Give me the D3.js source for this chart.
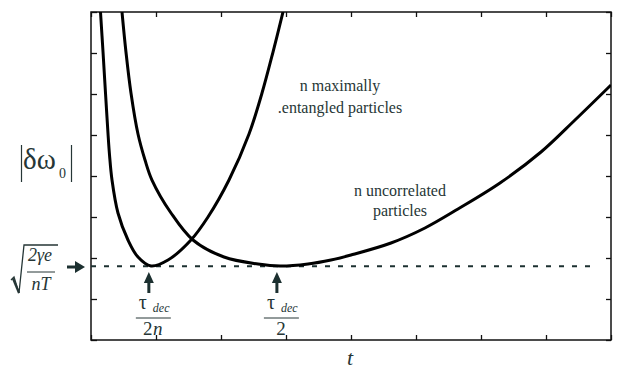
<!DOCTYPE html>
<html><head><meta charset="utf-8"></head>
<body style="margin:0">
<svg width="618" height="369"></svg>
<script src="https://d3js.org/d3.v7.min.js"></script>
<script>
// values (time and |dw0| in tick intervals)
const entangledT = [0.146, 0.185, 0.223, 0.262, 0.285, 0.323, 0.415, 0.569, 0.723, 0.923, 1.185, 1.538, 1.800, 2.123, 2.431, 2.631, 2.800, 2.954];
const entangledV = [8.0, 7.024, 6.024, 5.024, 4.512, 3.902, 3.098, 2.439, 2.024, 1.805, 1.951, 2.439, 3.0, 3.902, 5.024, 6.024, 7.024, 8.0];
const uncorrT = [0.477, 0.538, 0.615, 0.723, 0.831, 0.938, 1.231, 1.569, 2.046, 2.569, 2.908, 3.338, 3.692, 4.0, 4.615, 5.138, 5.646, 6.292, 6.923, 7.446, 8.0];
const uncorrV = [8.0, 7.024, 6.024, 5.024, 4.390, 3.902, 3.098, 2.439, 2.024, 1.854, 1.805, 1.854, 1.951, 2.073, 2.366, 2.732, 3.195, 3.829, 4.585, 5.366, 6.220];
const minLevel = 1.8;
const minT = [0.89, 2.86];
const minNum = ["τ", "τ"];
const minDen = ["2n", "2"];
const xTicks = [0, 1, 2, 3, 4, 5, 6, 7, 8];
const yTicks = [0, 1, 2, 3, 4, 5, 6, 7, 8];

const ink = "#263636";
const fam = ["Liberation", "Serif"].join(" ");
let svg = d3.select("svg");

let x = d3.scaleLinear().domain([0, 8]).range([91, 611]);
let y = d3.scaleLinear().domain([0, 8]).range([340, 12]);

// every text label, in the same way: [x, y, size, italic, anchor, text]
const labels = [
  [340, 91, 16, false, "middle", "n maximally"],
  [340, 113, 16, false, "middle", ".entangled particles"],
  [400, 196, 16, false, "middle", "n uncorrelated"],
  [400, 216, 16, false, "middle", "particles"],
  [23, 169, 29, false, "start", "δω"],
  [59, 178, 14, false, "start", "0"],
  [40, 261, 18, true, "middle", "2γe"],
  [41, 290, 18, true, "middle", "nT"],
  [350, 365, 22, true, "middle", "t"]
];
minT.forEach((t, i) => {
  labels.push([x(t) - 6, 309, 20, false, "middle", minNum[i]]);
  labels.push([x(t) + 4, 312, 12, true, "start", "dec"]);
  if (minDen[i] === "2n") {
    labels.push([x(t) - 1, 335, 19, false, "middle", "2"]);
    labels.push([x(t) + 9, 335, 19, true, "middle", "n"]);
  } else {
    labels.push([x(t) + 4, 335, 19, false, "middle", minDen[i]]);
  }
});

svg.selectAll("text").data(labels).enter().append("text")
  .attr("x", d => d[0]).attr("y", d => d[1]).attr("font-size", d => d[2])
  .style("font-family", d => "'" + fam + "'")
  .attr("font-style", d => d[3] ? "italic" : "normal")
  .attr("text-anchor", d => d[4])
  .attr("fill", ink)
  .text(d => d[5]);

// bars around dw0
svg.append("line").attr("x1", 21.5).attr("x2", 21.5).attr("y1", 145).attr("y2", 182).attr("stroke", ink).attr("stroke-width", 1.2);
svg.append("line").attr("x1", 71.5).attr("x2", 71.5).attr("y1", 145).attr("y2", 182).attr("stroke", ink).attr("stroke-width", 1.2);

// radical, fraction bar and arrow of the minimum value
svg.append("line").attr("x1", 27).attr("x2", 55).attr("y1", 272).attr("y2", 272).attr("stroke", ink).attr("stroke-width", 1);
svg.append("path").attr("d", "M11,280 L14,277 L19,293 L24,245 L58,245")
  .attr("fill", "none").attr("stroke", ink).attr("stroke-width", 1.3);
svg.append("path").attr("d", "M13,278.5 L19,293").attr("stroke", ink).attr("stroke-width", 2.2);
svg.append("path").attr("d", "M67,265.5 L75,265.5 L75,261 L85,267 L75,273 L75,268.5 L67,268.5 Z")
  .attr("fill", "#1c3030");

// arrows and fraction bars at the minima
let ann = svg.selectAll(".ann").data(minT).enter().append("g").attr("class", "ann")
  .attr("transform", d => "translate(" + x(d) + ",0)");
ann.append("path")
  .attr("d", "M0,272 L5,283 L1.5,283 L1.5,293 L-1.5,293 L-1.5,283 L-5,283 Z")
  .attr("fill", "#1c3030");
ann.append("line").attr("x1", -13).attr("x2", 22).attr("y1", 318).attr("y2", 318)
  .attr("stroke", ink).attr("stroke-width", 1);

svg.append("defs").append("clipPath").attr("id", "plot")
  .append("rect").attr("x", 91).attr("y", 12).attr("width", 520).attr("height", 328);

// axes, ticks pointing inward
function styleAxis(g) {
  g.attr("font-family", null).attr("font-size", null);
  g.select(".domain").remove();
  g.selectAll("text").remove();
  g.selectAll("line").attr("stroke", "#111").attr("stroke-width", 1.3);
}
svg.append("g").attr("transform", "translate(0,340)")
  .call(d3.axisBottom(x).tickValues(xTicks).tickSize(-5).tickSizeOuter(0).tickFormat(""))
  .call(styleAxis);
svg.append("g").attr("transform", "translate(0,12)")
  .call(d3.axisTop(x).tickValues(xTicks).tickSize(-5).tickSizeOuter(0).tickFormat(""))
  .call(styleAxis);
svg.append("g").attr("transform", "translate(91,0)")
  .call(d3.axisLeft(y).tickValues(yTicks).tickSize(-6).tickSizeOuter(0).tickFormat(""))
  .call(styleAxis);
svg.append("g").attr("transform", "translate(611,0)")
  .call(d3.axisRight(y).tickValues(yTicks).tickSize(-5).tickSizeOuter(0).tickFormat(""))
  .call(styleAxis);

svg.append("rect").attr("x", 91).attr("y", 12).attr("width", 520).attr("height", 328)
  .attr("fill", "none").attr("stroke", "#111").attr("stroke-width", 1.5);

// dashed minimum level
svg.append("line")
  .attr("x1", x(0)).attr("x2", x(7.8)).attr("y1", y(minLevel)).attr("y2", y(minLevel))
  .attr("stroke", "#1c3030").attr("stroke-width", 2).attr("stroke-dasharray", "5,8");

// curves
let line = d3.line().x(d => x(d[0])).y(d => y(d[1])).curve(d3.curveCatmullRom.alpha(0.5));
let curves = [d3.zip(entangledT, entangledV), d3.zip(uncorrT, uncorrV)];
svg.append("g").attr("clip-path", "url(#plot)")
  .selectAll("path").data(curves).enter().append("path")
  .attr("d", line).attr("fill", "none").attr("stroke", "#000").attr("stroke-width", 3);
</script>
</body>
</html>
